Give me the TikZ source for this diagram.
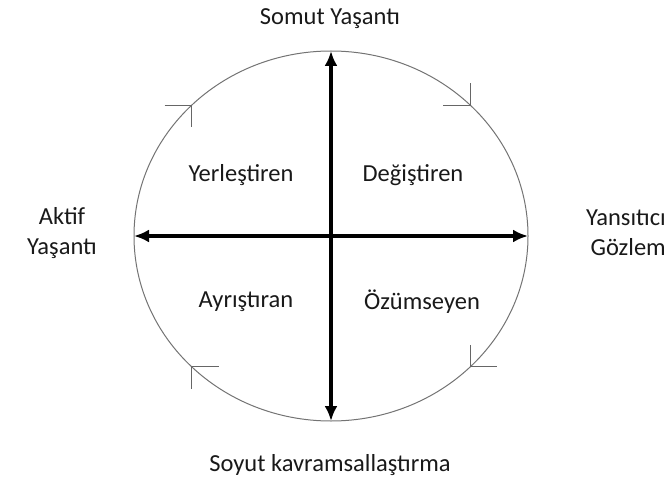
\documentclass[tikz,border=0pt]{standalone}
\usepackage{fontspec}
\setmainfont{Carlito}
\usepackage{tikz}
\usetikzlibrary{arrows.meta, positioning, calc}

\begin{document}
\begin{tikzpicture}[x=1pt, y=-1pt,
        label/.style={font=\fontsize{24.5}{30}\selectfont, text=black!90, inner sep=0pt},
        axis/.style={draw, {Latex[length=15pt,width=13pt]}-{Latex[length=15pt,width=13pt]}, line width=3.8pt},
        ring/.style={draw=black!55, line width=1pt},
        tick/.style={draw=black!60, line width=1pt}]

        \useasboundingbox (0,0) rectangle (666,481);

        % circle and the points on it
        \coordinate (centre) at (331,236);
        \draw [ring] (centre) ellipse [x radius=197, y radius=185];
        \coordinate (top) at (331,51);
        \coordinate (bottom) at (331,421);
        \coordinate (left) at (134,236);
        \coordinate (right) at (528,236);

        % clockwise marks on the circle
        \coordinate (tl) at (191.7,105.2);
        \coordinate (tr) at (470.3,105.2);
        \coordinate (br) at (470.3,366.8);
        \coordinate (bl) at (191.7,366.8);
        \draw [tick] ($(tl)+(-27,0)$) -- (tl) -- ($(tl)+(0,22)$);
        \draw [tick] ($(tr)+(-27,0)$) -- (tr) -- ($(tr)+(0,-22)$);
        \draw [tick] ($(br)+(0,-22)$) -- (br) -- ($(br)+(27,0)$);
        \draw [tick] ($(bl)+(27,0)$) -- (bl) -- ($(bl)+(0,22)$);

        % axes
        \path [axis] (top) -- (bottom);
        \path [axis] (left) -- (right);

        % poles
        \node [label] (somut) at (330,19) {Somut Yaşantı};
        \node [label] (soyut) at (330,465) {Soyut kavramsallaştırma};
        \node [label, align=center] (aktif) at (62,233) {Aktif\\Yaşantı};
        \node [label, align=right, anchor=east] (yansitici) at (666,233) {Yansıtıcı\\Gözlem};

        % quadrants
        \node [label] (yerlestiren) at (241,175) {Yerleştiren};
        \node [label] (degistiren) at (413,175) {Değiştiren};
        \node [label] (ayristiran) at (246,302) {Ayrıştıran};
        \node [label] (ozumseyen) at (422,302) {Özümseyen};

    \end{tikzpicture}
\end{document}
